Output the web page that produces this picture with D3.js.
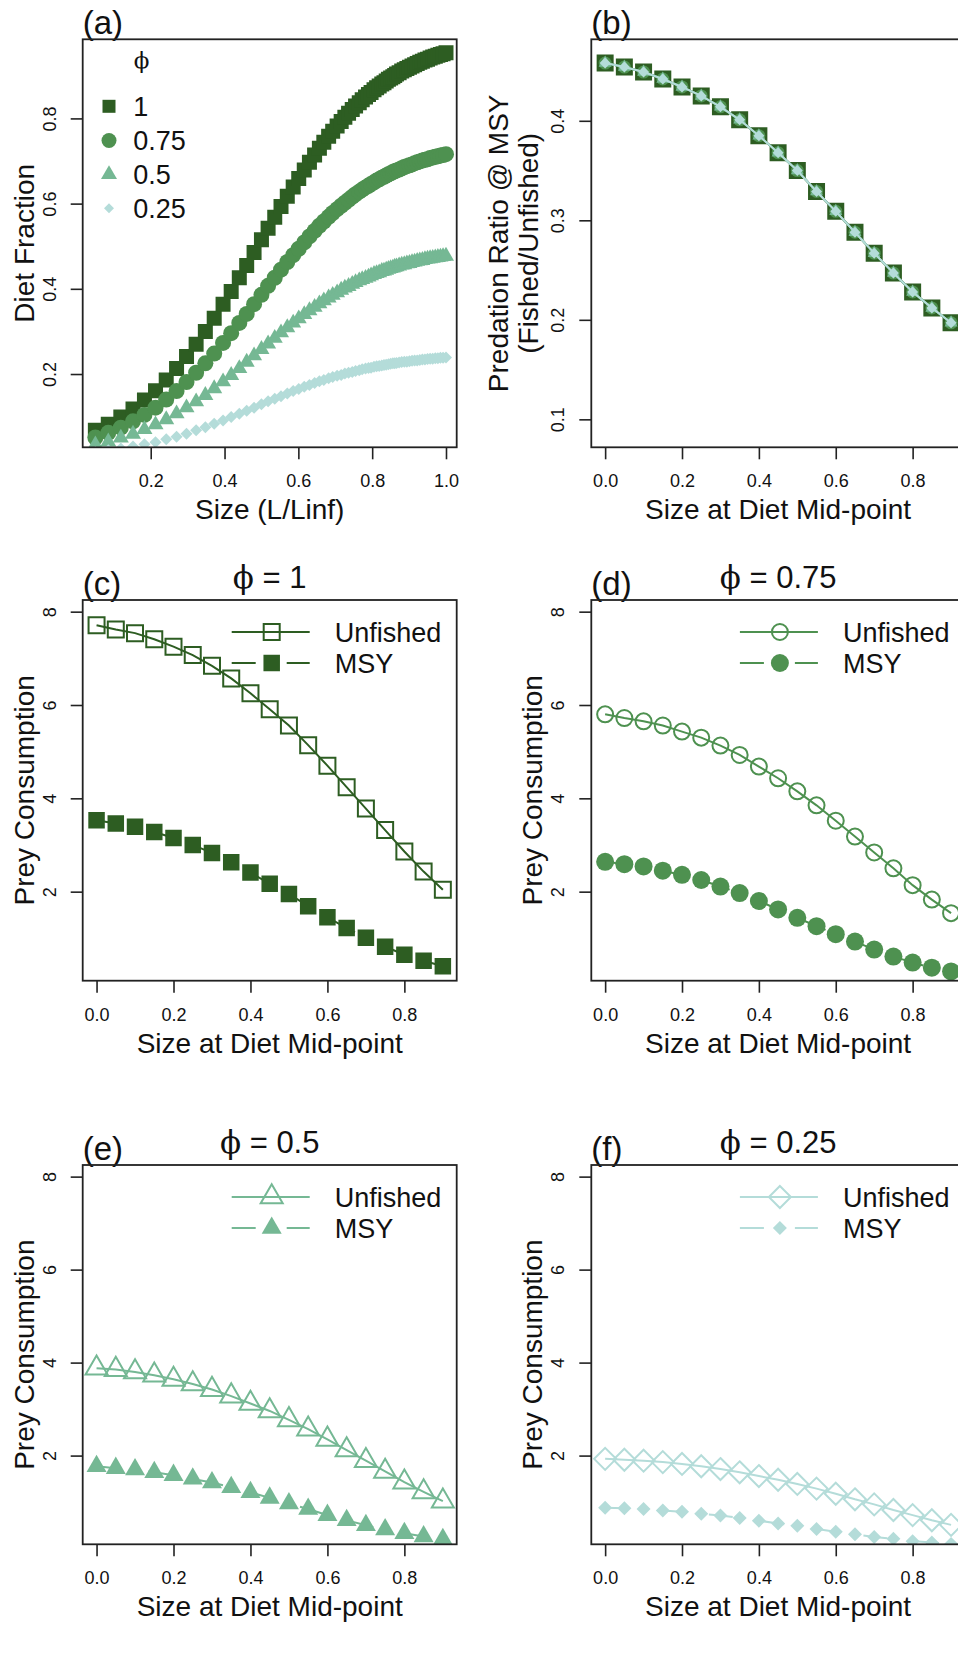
<!DOCTYPE html>
<html><head><meta charset="utf-8">
<script src="https://cdn.jsdelivr.net/npm/d3@7"></script>
<style>
body{margin:0;background:#fff}
svg{display:block;background:#fff}
</style>
</head><body>
<svg id="chart" width="958" height="1661"></svg>
<script>
// ---------------- DATA ----------------
// Panel (a): relative size (L/Linf) and diet fraction for each phi
const sizeRel = [0.050,0.085,0.119,0.152,0.183,0.213,0.242,0.270,0.297,0.323,0.348,0.372,0.396,0.418,0.440,0.460,0.480,0.500,0.518,0.536,0.553,0.570,0.586,0.601,0.616,0.630,0.644,0.657,0.669,0.682,0.693,0.705,0.716,0.726,0.736,0.746,0.755,0.765,0.773,0.782,0.790,0.797,0.805,0.812,0.819,0.826,0.832,0.838,0.844,0.850,0.856,0.861,0.866,0.873,0.880,0.887,0.894,0.901,0.908,0.915,0.922,0.929,0.936,0.943,0.950,0.957,0.964,0.971,0.978,0.985,0.992,1.000];
const dietPhi1   = [0.068,0.082,0.099,0.118,0.139,0.161,0.186,0.213,0.241,0.270,0.300,0.331,0.364,0.394,0.426,0.455,0.485,0.515,0.542,0.568,0.593,0.617,0.639,0.659,0.679,0.697,0.714,0.730,0.744,0.758,0.770,0.782,0.793,0.803,0.812,0.821,0.829,0.837,0.844,0.850,0.856,0.861,0.867,0.872,0.876,0.881,0.884,0.888,0.892,0.895,0.898,0.901,0.904,0.907,0.911,0.914,0.917,0.920,0.923,0.926,0.929,0.932,0.934,0.937,0.939,0.942,0.944,0.946,0.948,0.950,0.952,0.954];
const dietPhi075 = [0.051,0.062,0.074,0.089,0.104,0.121,0.140,0.160,0.181,0.203,0.225,0.248,0.273,0.296,0.320,0.341,0.364,0.386,0.407,0.426,0.445,0.463,0.479,0.494,0.509,0.523,0.536,0.548,0.558,0.569,0.578,0.587,0.595,0.602,0.609,0.616,0.622,0.628,0.633,0.638,0.642,0.646,0.650,0.654,0.657,0.661,0.663,0.666,0.669,0.671,0.674,0.676,0.678,0.680,0.683,0.686,0.688,0.690,0.692,0.695,0.697,0.699,0.701,0.703,0.704,0.707,0.708,0.710,0.711,0.713,0.714,0.716];
const dietPhi05  = [0.034,0.041,0.050,0.059,0.070,0.081,0.093,0.107,0.121,0.135,0.150,0.166,0.182,0.197,0.213,0.228,0.243,0.258,0.271,0.284,0.297,0.309,0.320,0.330,0.340,0.349,0.357,0.365,0.372,0.379,0.385,0.391,0.397,0.402,0.406,0.411,0.415,0.419,0.422,0.425,0.428,0.431,0.434,0.436,0.438,0.441,0.442,0.444,0.446,0.448,0.449,0.451,0.452,0.454,0.456,0.457,0.459,0.460,0.462,0.463,0.465,0.466,0.467,0.469,0.470,0.471,0.472,0.473,0.474,0.475,0.476,0.477];
const dietPhi025 = [0.017,0.021,0.025,0.030,0.035,0.040,0.047,0.053,0.060,0.068,0.075,0.083,0.091,0.099,0.107,0.114,0.121,0.129,0.136,0.142,0.148,0.154,0.160,0.165,0.170,0.174,0.179,0.183,0.186,0.190,0.193,0.196,0.198,0.201,0.203,0.205,0.207,0.209,0.211,0.213,0.214,0.215,0.217,0.218,0.219,0.220,0.221,0.222,0.223,0.224,0.225,0.225,0.226,0.227,0.228,0.229,0.229,0.230,0.231,0.232,0.232,0.233,0.234,0.234,0.235,0.236,0.236,0.237,0.237,0.238,0.238,0.239];
const phiLabels = ["1","0.75","0.5","0.25"];

// Panels (b)-(f): size at diet mid-point
const midpoint = [0,0.05,0.1,0.15,0.2,0.25,0.3,0.35,0.4,0.45,0.5,0.55,0.6,0.65,0.7,0.75,0.8,0.85,0.9];
const predRatio = [0.458,0.454,0.449,0.442,0.434,0.425,0.414,0.401,0.385,0.368,0.350,0.329,0.309,0.288,0.267,0.247,0.228,0.212,0.197];

const unfished1   = [7.71,7.62,7.54,7.41,7.25,7.07,6.84,6.57,6.25,5.91,5.56,5.14,4.70,4.24,3.78,3.32,2.86,2.43,2.04];
const msy1        = [3.53,3.46,3.39,3.28,3.15,3.00,2.83,2.63,2.41,2.17,1.95,1.69,1.45,1.22,1.01,0.82,0.65,0.52,0.40];
const unfished075 = [5.80,5.72,5.65,5.56,5.43,5.30,5.13,4.93,4.68,4.43,4.15,3.85,3.52,3.18,2.84,2.50,2.14,1.83,1.54];
const msy075      = [2.64,2.59,2.54,2.45,2.36,2.25,2.11,1.97,1.80,1.62,1.44,1.26,1.09,0.93,0.76,0.61,0.48,0.37,0.29];
const unfished05  = [3.88,3.85,3.80,3.73,3.64,3.54,3.42,3.28,3.12,2.96,2.77,2.57,2.35,2.12,1.89,1.66,1.43,1.22,1.02];
const msy05       = [1.77,1.73,1.70,1.64,1.58,1.50,1.42,1.32,1.21,1.09,0.97,0.85,0.72,0.61,0.50,0.41,0.33,0.26,0.20];
const unfished025 = [1.93,1.91,1.89,1.86,1.82,1.77,1.71,1.64,1.56,1.48,1.39,1.29,1.18,1.06,0.95,0.83,0.72,0.61,0.51];
const msy025      = [0.88,0.87,0.85,0.82,0.79,0.75,0.71,0.66,0.60,0.54,0.49,0.42,0.36,0.31,0.25,0.21,0.16,0.13,0.10];

// Tick values
const ticksSizeX = [0.2,0.4,0.6,0.8,1.0];
const ticksDietY = [0.2,0.4,0.6,0.8];
const ticksMidX  = [0.0,0.2,0.4,0.6,0.8];
const ticksRatioY = [0.1,0.2,0.3,0.4];
const ticksConsY = [2,4,6,8];
const legendSeries = ["Unfished","MSY"];

// ---------------- STYLE ----------------
const COLORS = ["#2d5d22","#4e9150","#75b894","#b4dcd9"];
const SHAPES = ["square","circle","triangle","diamond"];
const FONT = '"Liberation Sans", Arial, Helvetica, sans-serif';
const SERIF = '"DejaVu Serif", "Liberation Serif", serif';
const INK = "#111";

const svg = d3.select("#chart");
const defs = svg.append("defs");

function sym(type, w){
  if(type==="square") return d3.symbol(d3.symbolSquare, w*w)();
  if(type==="circle") return d3.symbol(d3.symbolCircle, Math.PI*w*w/4)();
  if(type==="triangle") return d3.symbol(d3.symbolTriangle, Math.sqrt(3)/4*w*w)();
  const h=w/2; return `M0,${-h}L${h},0L0,${h}L${-h},0Z`;
}

let clipN = 0;
function makePanel(p){
  const g = svg.append("g");
  const x = d3.scaleLinear().domain(p.xDomain).range([p.left,p.right]);
  const y = d3.scaleLinear().domain(p.yDomain).range([p.bottom,p.top]);
  const id = "clip"+(clipN++);
  defs.append("clipPath").attr("id",id).append("rect")
    .attr("x",p.left).attr("y",p.top).attr("width",p.right-p.left).attr("height",p.bottom-p.top);
  const plot = g.append("g").attr("clip-path",`url(#${id})`);

  const xa = g.append("g").attr("transform",`translate(0,${p.bottom})`)
    .call(d3.axisBottom(x).tickValues(p.xTicks).tickFormat(p.xFmt).tickSize(12));
  xa.attr("font-size",18).attr("font-family",FONT);
  xa.select(".domain").remove();
  xa.selectAll(".tick line").attr("stroke","#222").attr("stroke-width",1.6);
  xa.selectAll(".tick text").attr("y",40).attr("dy",null).attr("fill",INK);

  const ya = g.append("g").attr("transform",`translate(${p.left},0)`)
    .call(d3.axisLeft(y).tickValues(p.yTicks).tickFormat(p.yFmt).tickSize(12));
  ya.attr("font-size",18).attr("font-family",FONT);
  ya.select(".domain").remove();
  ya.selectAll(".tick line").attr("stroke","#222").attr("stroke-width",1.6);
  ya.selectAll(".tick text").attr("x",0).attr("dy",null).attr("text-anchor","middle")
    .attr("transform","translate(-27,0) rotate(-90)").attr("fill",INK);

  // panel letter
  g.append("text").attr("x",p.left).attr("y",p.top-5).text(p.letter)
    .attr("font-family",FONT).attr("font-size",33).attr("fill",INK);
  // x label
  g.append("text").attr("x",(p.left+p.right)/2).attr("y",p.bottom+72).attr("text-anchor","middle")
    .text(p.xLabel).attr("font-family",FONT).attr("font-size",28).attr("fill",INK);
  // y label(s)
  const cy = (p.top+p.bottom)/2;
  p.yLabel.forEach((t,i)=>{
    const off = p.yLabelOff[i];
    g.append("text").attr("transform",`translate(${p.left+off},${cy}) rotate(-90)`)
      .attr("text-anchor","middle").text(t).attr("font-family",FONT).attr("font-size",28).attr("fill",INK);
  });
  // title
  if(p.title){
    const tt = g.append("text").attr("x",(p.left+p.right)/2).attr("y",p.top-12)
      .attr("text-anchor","middle").attr("font-family",FONT).attr("font-size",31).attr("fill",INK);
    tt.append("tspan").attr("font-family",SERIF).attr("font-size",31).text("\u03D5");
    tt.append("tspan").text(" = "+p.title);
  }
  return {g,x,y,plot,p};
}
function drawBox(P){
  P.g.append("rect").attr("x",P.p.left).attr("y",P.p.top)
    .attr("width",P.p.right-P.p.left).attr("height",P.p.bottom-P.p.top)
    .attr("fill","none").attr("stroke","#222").attr("stroke-width",1.8);
}
const fmt1 = d3.format(".1f");
const fmt0 = d3.format("d");

// ---------------- PANEL (a) ----------------
const A = makePanel({left:82.7,right:456.7,top:39.3,bottom:447.3,
  xDomain:[0.0157,1.029], yDomain:[0.028,0.9857],
  xTicks:ticksSizeX, yTicks:ticksDietY, xFmt:fmt1, yFmt:fmt1,
  letter:"(a)", xLabel:"Size (L/Linf)", yLabel:["Diet Fraction"], yLabelOff:[-49]});
const dietSeries = [dietPhi1,dietPhi075,dietPhi05,dietPhi025];
const aSizes = [15,16,16,12];
dietSeries.forEach((ser,k)=>{
  A.plot.append("g").selectAll("path").data(ser).join("path")
    .attr("d",sym(SHAPES[k],aSizes[k]))
    .attr("transform",(d,i)=>`translate(${A.x(sizeRel[i])},${A.y(d)})`)
    .attr("fill",COLORS[k]);
});
// legend (a)
A.g.append("text").attr("x",141.7).attr("y",68).attr("text-anchor","middle")
  .attr("font-family",SERIF).attr("font-size",23).attr("fill",INK).text("\u03D5");
const legAy = [106.3,140.5,174.5,208.3];
const legASizes = [13,15,16,10];
phiLabels.forEach((lab,k)=>{
  A.g.append("path").attr("d",sym(SHAPES[k],legASizes[k]))
    .attr("transform",`translate(109,${legAy[k]})`).attr("fill",COLORS[k]);
  A.g.append("text").attr("x",133.3).attr("y",legAy[k]+9.7).text(lab)
    .attr("font-family",FONT).attr("font-size",27).attr("fill",INK);
});
drawBox(A);

// ---------------- PANEL (b) ----------------
const B = makePanel({left:591.3,right:964.9,top:39.3,bottom:447.3,
  xDomain:[-0.036,0.936], yDomain:[0.0719,0.4819],
  xTicks:ticksMidX, yTicks:ticksRatioY, xFmt:fmt1, yFmt:fmt1,
  letter:"(b)", xLabel:"Size at Diet Mid-point",
  yLabel:["Predation Ratio @ MSY","(Fished/Unfished)"], yLabelOff:[-83,-53]});
const bSizes = [17,13,13,11];
[0,1,2,3].forEach(k=>{
  B.plot.append("path").datum(predRatio)
    .attr("d",d3.line().x((d,i)=>B.x(midpoint[i])).y(d=>B.y(d)))
    .attr("fill","none").attr("stroke",COLORS[k]).attr("stroke-width",2);
  B.plot.append("g").selectAll("path").data(predRatio).join("path")
    .attr("d",sym(SHAPES[k],bSizes[k]))
    .attr("transform",(d,i)=>`translate(${B.x(midpoint[i])},${B.y(d)})`)
    .attr("fill",COLORS[k]);
});
drawBox(B);

// ---------------- PANELS (c)-(f) ----------------
const consPanels = [
  {letter:"(c)", title:"1",    left:82.7,  right:456.7, top:600,  bottom:980.7, unf:unfished1,   msy:msy1,   k:0, openW:16, fillW:16.5},
  {letter:"(d)", title:"0.75", left:591.3, right:964.9, top:600,  bottom:980.7, unf:unfished075, msy:msy075, k:1, openW:16, fillW:18},
  {letter:"(e)", title:"0.5",  left:82.7,  right:456.7, top:1165, bottom:1544.3, unf:unfished05, msy:msy05,  k:2, openW:22, fillW:20},
  {letter:"(f)", title:"0.25", left:591.3, right:964.9, top:1165, bottom:1544.3, unf:unfished025,msy:msy025, k:3, openW:22, fillW:14}
];
consPanels.forEach(cp=>{
  const P = makePanel({left:cp.left,right:cp.right,top:cp.top,bottom:cp.bottom,
    xDomain:[-0.036,0.936], yDomain:[0.092,8.25],
    xTicks:ticksMidX, yTicks:ticksConsY, xFmt:fmt1, yFmt:fmt0,
    letter:cp.letter, title:cp.title, xLabel:"Size at Diet Mid-point",
    yLabel:["Prey Consumption"], yLabelOff:[-49]});
  const col = COLORS[cp.k], shp = SHAPES[cp.k];
  const line = d3.line().x((d,i)=>P.x(midpoint[i])).y(d=>P.y(d));
  // unfished
  P.plot.append("path").datum(cp.unf).attr("d",line).attr("fill","none")
    .attr("stroke",col).attr("stroke-width",2);
  P.plot.append("g").selectAll("path").data(cp.unf).join("path")
    .attr("d",sym(shp,cp.openW))
    .attr("transform",(d,i)=>`translate(${P.x(midpoint[i])},${P.y(d)})`)
    .attr("fill","none").attr("stroke",col).attr("stroke-width",2);
  // MSY
  P.plot.append("path").datum(cp.msy).attr("d",line).attr("fill","none")
    .attr("stroke",col).attr("stroke-width",2).attr("stroke-dasharray","24,28");
  P.plot.append("g").selectAll("path").data(cp.msy).join("path")
    .attr("d",sym(shp,cp.fillW))
    .attr("transform",(d,i)=>`translate(${P.x(midpoint[i])},${P.y(d)})`)
    .attr("fill",col);
  // legend
  const tx = cp.right - 122;
  legendSeries.forEach((lab,j)=>{
    const ly = cp.top + (j===0?32:63);
    P.g.append("line").attr("x1",tx-103).attr("x2",tx-25).attr("y1",ly).attr("y2",ly)
      .attr("stroke",col).attr("stroke-width",2)
      .attr("stroke-dasharray", j===0?null:"24,31");
    const m = P.g.append("path").attr("d",sym(shp, j===0?cp.openW:cp.fillW))
      .attr("transform",`translate(${tx-63},${ly})`);
    if(j===0) m.attr("fill","none").attr("stroke",col).attr("stroke-width",2);
    else m.attr("fill",col);
    P.g.append("text").attr("x",tx).attr("y",ly+9.7).text(lab)
      .attr("font-family",FONT).attr("font-size",27).attr("fill",INK);
  });
  drawBox(P);
});
</script>
</body></html>
